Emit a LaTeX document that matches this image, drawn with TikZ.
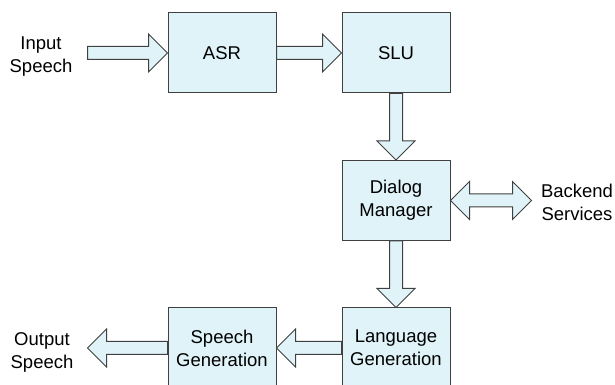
\documentclass[tikz,border=0pt]{standalone}
\usepackage{fontspec}
\setmainfont{Liberation Sans}
\usetikzlibrary{positioning,calc}
\definecolor{BoxFill}{RGB}{223,243,248}
\definecolor{EdgeGray}{RGB}{64,64,64}

% fat block arrows: shaft half width, head half width, head length
\newcommand{\shafthalf}{6.5pt}
\newcommand{\headhalf}{19pt}
\newcommand{\headlen}{19pt}
\newcommand{\fatright}[2]{%
  \draw[fatarrow] ([yshift=\shafthalf]#1) -- ([xshift=-\headlen,yshift=\shafthalf]#2)
    -- ([xshift=-\headlen,yshift=\headhalf]#2) -- (#2)
    -- ([xshift=-\headlen,yshift=-\headhalf]#2) -- ([xshift=-\headlen,yshift=-\shafthalf]#2)
    -- ([yshift=-\shafthalf]#1) -- cycle;}
\newcommand{\fatleft}[2]{%
  \draw[fatarrow] ([yshift=\shafthalf]#1) -- ([xshift=\headlen,yshift=\shafthalf]#2)
    -- ([xshift=\headlen,yshift=\headhalf]#2) -- (#2)
    -- ([xshift=\headlen,yshift=-\headhalf]#2) -- ([xshift=\headlen,yshift=-\shafthalf]#2)
    -- ([yshift=-\shafthalf]#1) -- cycle;}
\newcommand{\fatdown}[2]{%
  \draw[fatarrow] ([xshift=\shafthalf]#1) -- ([xshift=\shafthalf,yshift=\headlen]#2)
    -- ([xshift=\headhalf,yshift=\headlen]#2) -- (#2)
    -- ([xshift=-\headhalf,yshift=\headlen]#2) -- ([xshift=-\shafthalf,yshift=\headlen]#2)
    -- ([xshift=-\shafthalf]#1) -- cycle;}
\newcommand{\fatboth}[2]{%
  \draw[fatarrow] (#1) -- ([xshift=\headlen,yshift=\headhalf]#1)
    -- ([xshift=\headlen,yshift=\shafthalf]#1) -- ([xshift=-\headlen,yshift=\shafthalf]#2)
    -- ([xshift=-\headlen,yshift=\headhalf]#2) -- (#2)
    -- ([xshift=-\headlen,yshift=-\headhalf]#2) -- ([xshift=-\headlen,yshift=-\shafthalf]#2)
    -- ([xshift=\headlen,yshift=-\shafthalf]#1) -- ([xshift=\headlen,yshift=-\headhalf]#1)
    -- cycle;}

\begin{document}
\begin{tikzpicture}[x=1pt,y=1pt,
    font=\fontsize{18.5}{23}\selectfont,
    module/.style={draw=EdgeGray,fill=BoxFill,line width=1pt,minimum width=108pt,
      minimum height=80pt,align=center,inner sep=2pt},
    outside/.style={align=center,inner sep=0pt},
    fatarrow/.style={draw=EdgeGray,fill=BoxFill,line width=1pt,line join=miter}]
    \useasboundingbox (0,0) rectangle (615,385);
    \node[module] (asr) at (222,332) {ASR};
    \node[module] (slu) at (396,332) {SLU};
    \node[module] (dm) at (396,184.5) {Dialog\\Manager};
    \node[module] (lg) at (396,37) {Language\\Generation};
    \node[module] (sg) at (222,37) {Speech\\Generation};
    \node[outside] (inspeech) at (41,328) {Input\\Speech};
    \node[outside] (backend) at (577,183) {Backend\\Services};
    \node[outside] (outspeech) at (42,33) {Output\\Speech};
    \coordinate (instart) at ([xshift=-80pt]asr.west);
    \coordinate (outend) at ([xshift=-80pt]sg.west);
    \coordinate (beend) at ([xshift=81pt]dm.east);
    \fatright{instart}{asr.west}
    \fatright{asr.east}{slu.west}
    \fatdown{slu.south}{dm.north}
    \fatboth{dm.east}{beend}
    \fatdown{dm.south}{lg.north}
    \fatleft{lg.west}{sg.east}
    \fatleft{sg.west}{outend}
  \end{tikzpicture}
\end{document}
